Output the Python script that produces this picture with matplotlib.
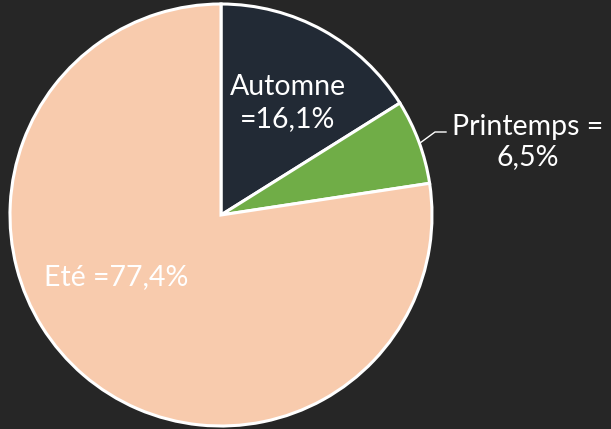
import matplotlib.pyplot as plt

saisons = ['Automne', 'Printemps', 'Eté']
parts = [16.1, 6.5, 77.4]
etiquettes = ['Automne\n=16,1%', 'Printemps =\n6,5%', 'Eté =77,4%']
couleurs = ['#222a35', '#70ad47', '#f8cbad']

plt.rcParams['font.family'] = ['Lato', 'DejaVu Sans']

fig = plt.figure(figsize=(6.11, 4.29), dpi=100)
fig.set_facecolor('#262626')
ax = fig.add_axes([0, 0, 1, 1])
ax.set_facecolor('#262626')

ax.pie(parts, colors=couleurs, startangle=90, counterclock=False,
       center=(221, 214), radius=211,
       wedgeprops={'edgecolor': 'white', 'linewidth': 2.2})

# la pie change les limites, on les remet après
ax.set_xlim(0, 611)
ax.set_ylim(0, 429)
ax.set_aspect('equal')
ax.axis('off')

# libellés
taille = 20.5
ax.text(288, 326, etiquettes[0], color='white', fontsize=taille,
        ha='center', va='center', linespacing=1.25)
ax.text(528, 287, etiquettes[1], color='white', fontsize=taille,
        ha='center', va='center', linespacing=1.2)
ax.text(116, 152, etiquettes[2], color='white', fontsize=taille,
        ha='center', va='center')
ax.plot([420, 435, 446], [286, 297, 297], color='white', linewidth=1)

fig.savefig('out.png', dpi=100, facecolor=fig.get_facecolor())
